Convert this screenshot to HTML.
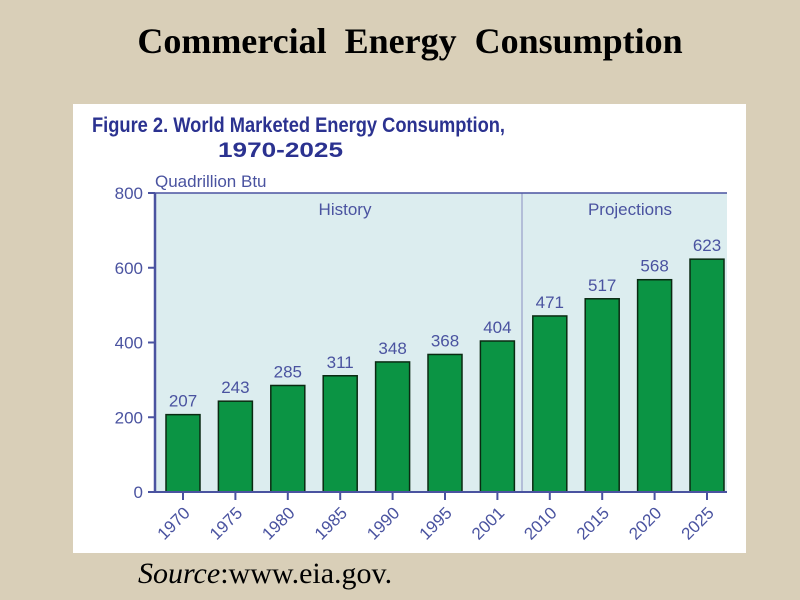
<!DOCTYPE html>
<html><head><meta charset="utf-8"><style>
body{margin:0;width:800px;height:600px;background:#d9cfb8;overflow:hidden;position:relative;font-family:"Liberation Sans",sans-serif}
</style></head><body>
<div style="position:absolute;left:0;width:820px;top:20px;text-align:center;font:bold 36px 'Liberation Serif',serif;color:#000">Commercial&nbsp; Energy&nbsp; Consumption</div>
<svg width="800" height="600" style="position:absolute;left:0;top:0">
<rect x="73" y="104" width="673" height="449" fill="#fff"/>
<text x="92" y="132" font-family="Liberation Sans" font-weight="bold" font-size="21" fill="#2b3290" textLength="413" lengthAdjust="spacingAndGlyphs">Figure 2.  World Marketed Energy Consumption,</text>
<text x="218" y="157" font-family="Liberation Sans" font-weight="bold" font-size="21" fill="#2b3290" textLength="125" lengthAdjust="spacingAndGlyphs">1970-2025</text>
<text x="155" y="187" font-family="Liberation Sans" font-size="17" fill="#4a53a0">Quadrillion Btu</text>
<g id="g"></g>
</svg>
<div style="position:absolute;left:138px;top:557px;font:30px 'Liberation Serif',serif;color:#000"><i>Source</i>:www.eia.gov.</div>
<script>
const categories=["1970","1975","1980","1985","1990","1995","2001","2010","2015","2020","2025"];
const values=[207,243,285,311,348,368,404,471,517,568,623];
const yTicks=[0,200,400,600,800];
const ns="http://www.w3.org/2000/svg",g=document.getElementById("g");
const x0=155,x1=727,y0=492,y1=193;
const y=v=>y0-(v/800)*(y0-y1);
const xc=i=>183+i*52.4;
function mk(t,a){const e=document.createElementNS(ns,t);for(const k in a)e.setAttribute(k,a[k]);g.appendChild(e);return e;}
const bg=mk("rect",{x:x0,y:y1,width:x1-x0,height:y0-y1,fill:"#dcedef"});


const dv=mk("line",{x1:522,x2:522,y1:y1,y2:y0,stroke:"#8a90c0","stroke-width":1});


const h=mk("text",{x:345,y:215,"font-size":17,fill:"#4a53a0","text-anchor":"middle","font-family":"Liberation Sans"});h.textContent="History";


const p=mk("text",{x:630,y:215,"font-size":17,fill:"#4a53a0","text-anchor":"middle","font-family":"Liberation Sans"});p.textContent="Projections";


values.forEach((v,i)=>{
 const r=mk("rect",{x:xc(i)-17,y:y(v),width:34,height:y0-y(v),fill:"#0b9444",stroke:"#0a2a12","stroke-width":1.5});
 
 
 const t=mk("text",{x:xc(i),y:y(v)-8,"font-size":17,fill:"#4a53a0","text-anchor":"middle","font-family":"Liberation Sans"});t.textContent=v;
 
 
 mk("line",{x1:xc(i),x2:xc(i),y1:y0,y2:y0+8,stroke:"#4a53a0","stroke-width":2});
 const c=mk("text",{x:xc(i)+8,y:y0+22,"font-size":17,fill:"#4a53a0","text-anchor":"end","font-family":"Liberation Sans",transform:`rotate(-45 ${xc(i)+8} ${y0+22})`});c.textContent=categories[i];
 
 
});
yTicks.forEach(v=>{
 mk("line",{x1:x0-7,x2:x0,y1:y(v),y2:y(v),stroke:"#4a53a0","stroke-width":2});
 const t=mk("text",{x:x0-12,y:y(v)+6,"font-size":17,fill:"#4a53a0","text-anchor":"end","font-family":"Liberation Sans"});t.textContent=v;
 
 
});
const ax=mk("line",{x1:x0,x2:x0,y1:y1,y2:y0,stroke:"#4a53a0","stroke-width":2.5});


const bx=mk("line",{x1:x0,x2:x1,y1:y0,y2:y0,stroke:"#4a53a0","stroke-width":2});


mk("line",{x1:x0,x2:x1,y1:y1,y2:y1,stroke:"#4a53a0","stroke-width":1.5});
</script>
</body></html>
